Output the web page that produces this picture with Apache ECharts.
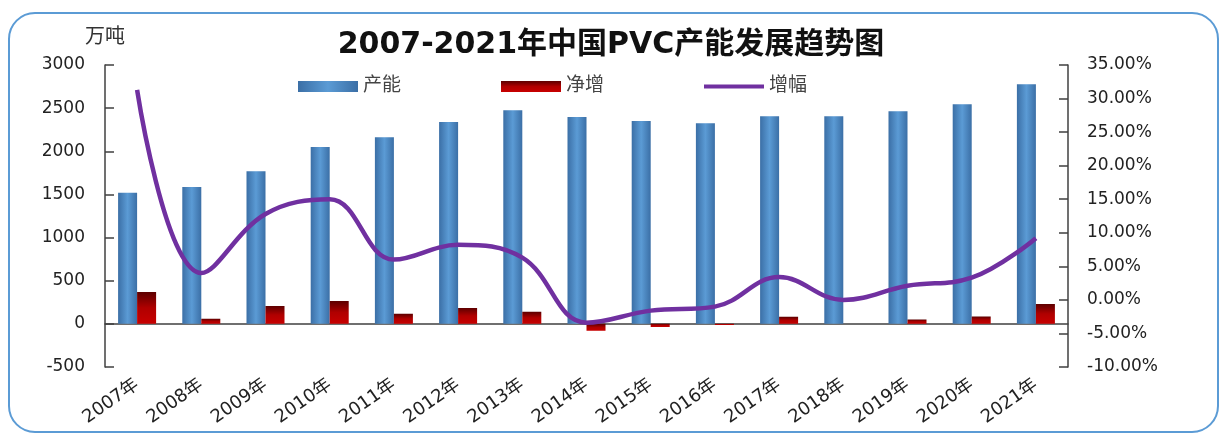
<!DOCTYPE html>
<html>
<head>
<meta charset="utf-8">
<script src="https://cdn.jsdelivr.net/npm/echarts@6/dist/echarts.min.js"></script>
<style>
  html, body { margin: 0; padding: 0; background: #fff; }
  #chart { width: 1222px; height: 437px; }
</style>
</head>
<body>
<div id="chart"></div>
<script>
// 数据
const years = ['2007年', '2008年', '2009年', '2010年', '2011年', '2012年', '2013年', '2014年',
  '2015年', '2016年', '2017年', '2018年', '2019年', '2020年', '2021年'];
const capacity = [1520, 1586, 1770, 2049, 2164, 2338, 2477, 2396, 2350, 2326, 2407, 2407, 2465, 2546, 2778];  // 产能
const netAdd = [370, 58, 208, 266, 116, 185, 139, -81, -35, -12, 81, 0, 50, 85, 231];                       // 净增
const growth = [31.3, 4.0, 12.8, 15.0, 6.0, 8.2, 6.3, -3.4, -1.6, -1.0, 3.4, 0.0, 2.1, 3.3, 9.2];            // 增幅 %
const leftTicks = { min: -500, max: 3000, interval: 500 };
const rightTicks = { min: -10, max: 35, interval: 5 };

const chart = echarts.init(document.getElementById('chart'));
const font = '"DejaVu Sans", "Noto Sans CJK SC", sans-serif';
const axisColor = '#404040';

const option = {
  backgroundColor: '#fff',
  textStyle: { fontFamily: font },
  graphic: [{
    type: 'rect',
    shape: { x: 9, y: 13, width: 1209, height: 419, r: 26 },
    style: { fill: 'none', stroke: '#5B9BD5', lineWidth: 2 },
    silent: true
  }],
  title: {
    text: '2007-2021年中国PVC产能发展趋势图',
    left: 'center',
    top: 25,
    textStyle: { fontSize: 30, fontWeight: 'bold', color: '#111', fontFamily: font }
  },
  legend: {
    left: 293,
    top: 72,
    itemWidth: 60,
    itemHeight: 11,
    itemGap: 100,
    textStyle: { fontSize: 19, color: '#444', fontFamily: font },
    data: [
      { name: '产能', icon: 'rect' },
      { name: '净增', icon: 'rect' },
      { name: '增幅', icon: 'path://M0,0L60,0L60,4L0,4Z' }
    ]
  },
  grid: { left: 105, right: 154, top: 65, bottom: 70, outerBoundsMode: 'none' },
  xAxis: {
    type: 'category',
    data: years,
    axisLine: { onZero: true, lineStyle: { color: axisColor, width: 1.5 } },
    axisTick: { inside: true, length: 7, lineStyle: { color: axisColor, width: 1.5 } },
    axisLabel: { rotate: 35, margin: 16, fontSize: 18, color: '#222', interval: 0 }
  },
  yAxis: [
    {
      type: 'value',
      name: '万吨',
      nameLocation: 'end',
      nameGap: 17,
      nameTextStyle: { fontSize: 20, color: '#333', align: 'center' },
      min: leftTicks.min,
      max: leftTicks.max,
      interval: leftTicks.interval,
      axisLine: { show: true, lineStyle: { color: axisColor, width: 1.5 } },
      axisTick: { show: true, inside: true, length: 9, lineStyle: { color: axisColor, width: 1.5 } },
      axisLabel: { fontSize: 17, color: '#222', margin: 20, formatter: v => String(v) },
      splitLine: { show: false }
    },
    {
      type: 'value',
      min: rightTicks.min,
      max: rightTicks.max,
      interval: rightTicks.interval,
      position: 'right',
      axisLine: { show: true, lineStyle: { color: axisColor, width: 1.5 } },
      axisTick: { show: true, inside: true, length: 9, lineStyle: { color: axisColor, width: 1.5 } },
      axisLabel: {
        fontSize: 17, color: '#222', margin: 19,
        formatter: v => v.toFixed(2) + '%'
      },
      splitLine: { show: false }
    }
  ],
  series: [
    {
      name: '产能',
      type: 'bar',
      data: capacity,
      barWidth: 19,
      barGap: '0%',
      itemStyle: {
        color: new echarts.graphic.LinearGradient(0, 0, 1, 0, [
          { offset: 0, color: '#3b6fa6' },
          { offset: 0.5, color: '#5b9bd5' },
          { offset: 1, color: '#3b6fa6' }
        ])
      }
    },
    {
      name: '净增',
      type: 'bar',
      data: netAdd,
      barWidth: 19,
      itemStyle: {
        color: new echarts.graphic.LinearGradient(0, 0, 0, 1, [
          { offset: 0, color: '#5c0000' },
          { offset: 0.5, color: '#b00000' },
          { offset: 1, color: '#c80000' }
        ])
      }
    },
    {
      name: '增幅',
      type: 'line',
      yAxisIndex: 1,
      data: growth,
      smooth: 0.4,
      symbol: 'none',
      lineStyle: { width: 4.5, color: '#7030A0' },
      itemStyle: { color: '#7030A0' }
    }
  ]
};

chart.setOption(option);
</script>
</body>
</html>
